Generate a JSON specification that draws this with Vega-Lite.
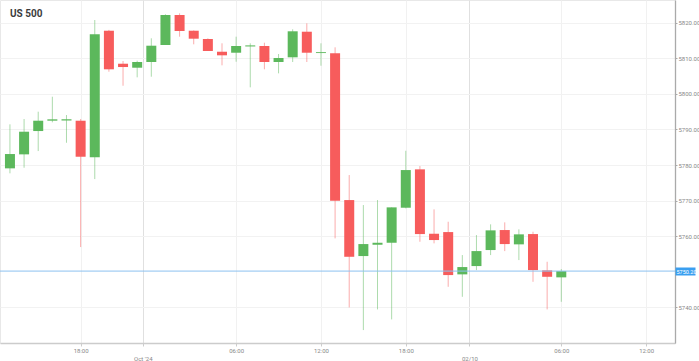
{
  "$schema": "https://vega.github.io/schema/vega-lite/v6.json",
  "width": 675,
  "height": 343,
  "autosize": {"type": "none"},
  "padding": {"left": 0, "top": 0, "right": 24, "bottom": 18},
  "background": "white",
  "config": {"view": {"stroke": "#e8e8e8"}, "font": "Roboto"},
  "title": {"text": "US 500", "anchor": "start", "frame": "group", "offset": -19, "dx": 10, "fontSize": 10, "fontWeight": "bold", "color": "#3c3c3c"},
  "data": {"values": [
    {"k": 0, "o": 5779.06, "h": 5791.42, "l": 5777.66, "c": 5783.08},
    {"k": 1, "o": 5782.99, "h": 5792.91, "l": 5779.23, "c": 5789.35},
    {"k": 2, "o": 5789.54, "h": 5794.97, "l": 5783.92, "c": 5792.44},
    {"k": 3, "o": 5792.45, "h": 5799.18, "l": 5791.99, "c": 5792.83},
    {"k": 4, "o": 5792.50, "h": 5794.04, "l": 5786.25, "c": 5792.85},
    {"k": 5, "o": 5792.44, "h": 5792.91, "l": 5756.95, "c": 5782.32},
    {"k": 6, "o": 5782.15, "h": 5820.73, "l": 5776.05, "c": 5816.71},
    {"k": 7, "o": 5817.72, "h": 5817.95, "l": 5806.20, "c": 5806.88},
    {"k": 8, "o": 5808.45, "h": 5809.21, "l": 5802.27, "c": 5807.52},
    {"k": 9, "o": 5807.33, "h": 5809.29, "l": 5804.63, "c": 5808.93},
    {"k": 10, "o": 5808.93, "h": 5815.59, "l": 5804.80, "c": 5813.51},
    {"k": 11, "o": 5813.71, "h": 5822.33, "l": 5813.71, "c": 5822.14},
    {"k": 12, "o": 5822.14, "h": 5822.61, "l": 5816.04, "c": 5817.64},
    {"k": 13, "o": 5817.72, "h": 5817.80, "l": 5813.90, "c": 5815.48},
    {"k": 14, "o": 5815.39, "h": 5815.59, "l": 5812.02, "c": 5812.02},
    {"k": 15, "o": 5811.82, "h": 5814.18, "l": 5808.00, "c": 5810.81},
    {"k": 16, "o": 5811.54, "h": 5816.04, "l": 5809.01, "c": 5813.43},
    {"k": 17, "o": 5813.30, "h": 5814.18, "l": 5801.82, "c": 5813.60},
    {"k": 18, "o": 5813.43, "h": 5814.35, "l": 5806.88, "c": 5808.93},
    {"k": 19, "o": 5808.93, "h": 5811.18, "l": 5805.75, "c": 5810.05},
    {"k": 20, "o": 5810.25, "h": 5818.12, "l": 5808.93, "c": 5817.56},
    {"k": 21, "o": 5817.44, "h": 5819.80, "l": 5808.93, "c": 5811.54},
    {"k": 22, "o": 5811.45, "h": 5814.18, "l": 5807.89, "c": 5811.70},
    {"k": 23, "o": 5811.37, "h": 5813.06, "l": 5759.39, "c": 5769.96},
    {"k": 24, "o": 5770.15, "h": 5777.18, "l": 5740.00, "c": 5754.22},
    {"k": 25, "o": 5754.42, "h": 5768.75, "l": 5733.63, "c": 5757.79},
    {"k": 26, "o": 5757.60, "h": 5770.15, "l": 5739.44, "c": 5758.16},
    {"k": 27, "o": 5758.16, "h": 5768.10, "l": 5736.63, "c": 5768.10},
    {"k": 28, "o": 5768.00, "h": 5784.00, "l": 5767.82, "c": 5778.58},
    {"k": 29, "o": 5778.78, "h": 5779.71, "l": 5758.44, "c": 5760.60},
    {"k": 30, "o": 5760.69, "h": 5767.54, "l": 5757.99, "c": 5758.92},
    {"k": 31, "o": 5761.16, "h": 5764.06, "l": 5745.79, "c": 5749.08},
    {"k": 32, "o": 5749.28, "h": 5754.70, "l": 5742.98, "c": 5751.33},
    {"k": 33, "o": 5751.61, "h": 5760.32, "l": 5750.48, "c": 5755.82},
    {"k": 34, "o": 5756.11, "h": 5763.33, "l": 5754.70, "c": 5761.64},
    {"k": 35, "o": 5761.73, "h": 5763.89, "l": 5755.82, "c": 5757.79},
    {"k": 36, "o": 5757.71, "h": 5761.92, "l": 5753.30, "c": 5760.52},
    {"k": 37, "o": 5760.60, "h": 5761.25, "l": 5747.20, "c": 5750.48},
    {"k": 38, "o": 5750.40, "h": 5752.82, "l": 5739.44, "c": 5748.60},
    {"k": 39, "o": 5748.44, "h": 5750.77, "l": 5741.58, "c": 5750.20}
  ]},
  "layer": [
    {
      "mark": {"type": "rule", "strokeWidth": 1, "opacity": 0.5},
      "encoding": {
        "x": {"field": "k", "type": "quantitative",
          "scale": {"domain": [-0.35, 46.69], "nice": false, "zero": false},
          "axis": {
            "title": null,
            "values": [5, 9.4, 16, 22, 28, 32.5, 39, 45],
            "labelExpr": "datum.value == 9.4 ? ['', 'Oct \\'24'] : datum.value == 32.5 ? ['', '02/10'] : (datum.value == 5 || datum.value == 28) ? '18:00' : (datum.value == 16 || datum.value == 39) ? '06:00' : '12:00'",
            "grid": true,
            "gridColor": {"condition": {"test": "datum.value == 9.4 || datum.value == 32.5", "value": "#e0e0e0"}, "value": "#f1f1f1"},
            "domainColor": "#cccccc", "domainWidth": 1.5,
            "tickColor": "#cccccc", "tickSize": 3,
            "labelFontSize": 6, "labelColor": "#888888", "labelPadding": 1,
            "labelLineHeight": 8, "labelFlush": false, "labelOverlap": false
          }
        },
        "y": {"field": "l", "type": "quantitative",
          "scale": {"domain": [5730, 5826.35], "nice": false, "zero": false},
          "axis": {
            "title": null, "orient": "right",
            "values": [5740, 5760, 5770, 5780, 5790, 5800, 5810, 5820],
            "format": ".2f",
            "grid": true, "gridColor": "#f2f2f2",
            "domainColor": "#aaaaaa", "domainWidth": 1.3,
            "tickColor": "#aaaaaa", "tickSize": 2,
            "labelFontSize": 6, "labelColor": "#888888", "labelPadding": 1,
            "labelOverlap": false
          }
        },
        "y2": {"field": "h"},
        "color": {"condition": {"test": "datum.c >= datum.o", "value": "#5cb85c"}, "value": "#f75c5c"}
      }
    },
    {
      "mark": {"type": "bar", "size": 10},
      "encoding": {
        "x": {"field": "k", "type": "quantitative"},
        "y": {"field": "o", "type": "quantitative",
          "scale": {"domain": [5730, 5826.35], "nice": false, "zero": false},
          "axis": null},
        "y2": {"field": "c"},
        "color": {"condition": {"test": "datum.c >= datum.o", "value": "#5cb85c"}, "value": "#f75c5c"}
      }
    },
    {
      "data": {"values": [{"p": 5750.2}]},
      "mark": {"type": "rule", "color": "#8cc2f0", "strokeWidth": 1},
      "encoding": {
        "y": {"field": "p", "type": "quantitative",
          "scale": {"domain": [5730, 5826.35], "nice": false, "zero": false},
          "axis": {
            "title": null, "orient": "right", "values": [5750.2], "format": ".2f",
            "grid": false, "domain": false,
            "tickSize": 20, "tickWidth": 8, "tickColor": "#3a9ff0",
            "labelPadding": -19, "labelColor": "#ffffff", "labelFontSize": 5.5
          }
        }
      }
    }
  ],
  "resolve": {"scale": {"y": "independent"}}
}
